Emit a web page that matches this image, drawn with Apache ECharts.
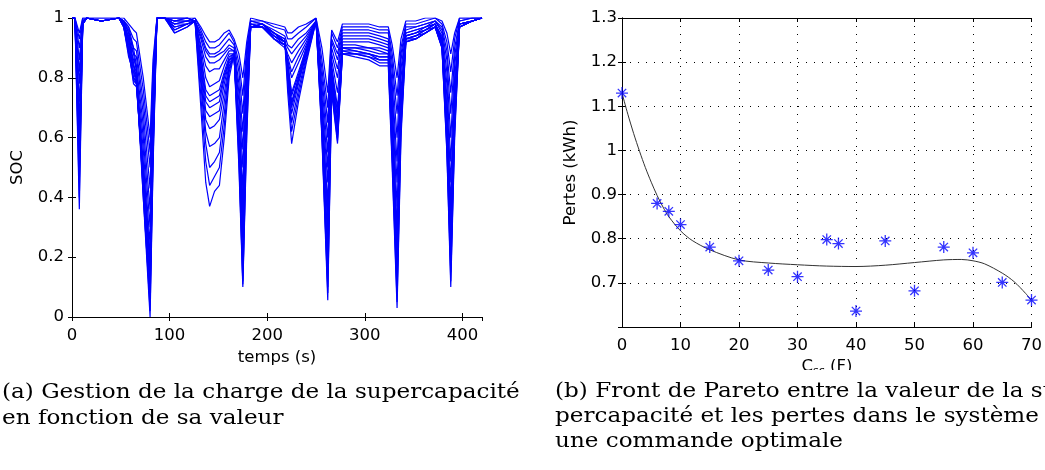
<!DOCTYPE html>
<html lang="fr">
<head>
<meta charset="UTF-8">
<title>SOC et front de Pareto</title>
<script src="https://cdn.jsdelivr.net/npm/echarts@6/dist/echarts.min.js"></script>
<style>
    body { margin: 0; background: #fff; }
    #root { width: 1045px; height: 470px; }
</style>
</head>
<body>
<div id="root"></div>
<script>
// (a) temps (s) commun a toutes les courbes de SOC
var temps = [0, 3, 7.5, 11, 15, 30, 48, 53, 58, 63, 66, 73, 80, 83, 87, 95, 105, 118, 126, 132,
    137, 141, 146, 151, 156, 161, 166, 171, 175, 179, 183, 195, 207, 218, 221, 225, 232, 240, 250, 256,
    262, 266, 272, 277, 290, 304, 315, 324, 328, 333, 337, 342, 352, 362, 372, 379, 384, 388, 392, 397,
    410, 420];

// une courbe par valeur de supercapacite (de la plus petite a la plus grande)
var soc1 = [1, 1, 0.36, 0.98, 1, 0.99, 1, 0.99, 0.97, 0.9, 0.84, 0.4, 0.0, 0.5, 1, 1, 1, 1, 0.99, 0.7,
    0.45, 0.37, 0.42, 0.44, 0.6, 0.8, 0.88, 0.5, 0.1, 0.6, 0.97, 0.98, 0.95, 0.92, 0.75, 0.58, 0.72, 0.85, 0.99, 0.6,
    0.056, 0.75, 0.58, 0.88, 0.87, 0.86, 0.84, 0.84, 0.5, 0.03, 0.6, 0.92, 0.93, 0.95, 0.97, 0.9, 0.55, 0.1, 0.6, 0.97,
    0.99, 1];
var soc2 = [1, 1, 0.4, 0.98, 1, 0.99, 1, 0.99, 0.96, 0.88, 0.82, 0.42, 0.02, 0.52, 1, 1, 1, 1, 0.99, 0.74,
    0.52, 0.44, 0.47, 0.5, 0.64, 0.82, 0.88, 0.52, 0.11, 0.62, 0.97, 0.98, 0.95, 0.93, 0.78, 0.62, 0.74, 0.86, 0.99, 0.61,
    0.08, 0.76, 0.59, 0.88, 0.88, 0.87, 0.85, 0.85, 0.52, 0.05, 0.62, 0.92, 0.93, 0.95, 0.97, 0.9, 0.56, 0.12, 0.62, 0.97,
    0.99, 1];
var soc3 = [1, 1, 0.45, 0.98, 1, 0.99, 1, 0.99, 0.95, 0.85, 0.8, 0.4, 0.05, 0.55, 1, 1, 1, 1, 0.99, 0.78,
    0.58, 0.5, 0.52, 0.55, 0.68, 0.83, 0.88, 0.55, 0.12, 0.65, 0.97, 0.98, 0.95, 0.93, 0.8, 0.65, 0.76, 0.87, 0.99, 0.62,
    0.1, 0.78, 0.6, 0.88, 0.88, 0.87, 0.86, 0.86, 0.55, 0.08, 0.64, 0.92, 0.93, 0.95, 0.97, 0.9, 0.58, 0.15, 0.63, 0.97,
    0.99, 1];
var soc4 = [1, 1, 0.48, 0.98, 1, 0.99, 1, 0.98, 0.94, 0.84, 0.79, 0.43, 0.08, 0.56, 1, 1, 0.99, 1, 0.99, 0.8,
    0.62, 0.57, 0.58, 0.6, 0.72, 0.84, 0.87, 0.58, 0.18, 0.68, 0.97, 0.97, 0.95, 0.92, 0.81, 0.68, 0.78, 0.88, 0.99, 0.64,
    0.15, 0.79, 0.61, 0.89, 0.88, 0.88, 0.86, 0.86, 0.58, 0.12, 0.66, 0.93, 0.93, 0.95, 0.97, 0.91, 0.6, 0.18, 0.65, 0.97,
    0.99, 1];
var soc5 = [1, 1, 0.52, 0.98, 1, 0.99, 1, 0.98, 0.93, 0.82, 0.78, 0.45, 0.1, 0.58, 1, 1, 0.99, 0.99, 0.99, 0.82,
    0.66, 0.63, 0.64, 0.66, 0.75, 0.85, 0.87, 0.6, 0.25, 0.7, 0.97, 0.97, 0.94, 0.92, 0.82, 0.7, 0.79, 0.88, 0.99, 0.65,
    0.2, 0.8, 0.62, 0.89, 0.89, 0.88, 0.87, 0.87, 0.6, 0.15, 0.68, 0.93, 0.94, 0.95, 0.97, 0.91, 0.62, 0.22, 0.67, 0.97,
    0.99, 1];
var soc6 = [1, 1, 0.56, 0.98, 1, 0.99, 1, 0.98, 0.92, 0.8, 0.78, 0.46, 0.13, 0.59, 1, 1, 0.99, 0.99, 0.99, 0.84,
    0.69, 0.67, 0.68, 0.69, 0.78, 0.86, 0.87, 0.61, 0.29, 0.71, 0.97, 0.97, 0.94, 0.92, 0.83, 0.71, 0.8, 0.89, 0.99, 0.66,
    0.25, 0.81, 0.64, 0.9, 0.89, 0.88, 0.87, 0.87, 0.62, 0.18, 0.69, 0.93, 0.94, 0.96, 0.97, 0.92, 0.64, 0.26, 0.68, 0.97,
    0.99, 1];
var soc7 = [1, 1, 0.6, 0.98, 1, 0.99, 1, 0.98, 0.9, 0.78, 0.77, 0.48, 0.16, 0.6, 1, 1, 0.98, 0.99, 0.99, 0.85,
    0.72, 0.7, 0.71, 0.72, 0.8, 0.86, 0.87, 0.62, 0.33, 0.72, 0.97, 0.97, 0.94, 0.92, 0.84, 0.72, 0.8, 0.89, 0.99, 0.68,
    0.3, 0.82, 0.66, 0.9, 0.9, 0.89, 0.88, 0.88, 0.64, 0.22, 0.7, 0.93, 0.94, 0.96, 0.98, 0.92, 0.66, 0.3, 0.7, 0.98,
    0.99, 1];
var soc8 = [1, 1, 0.63, 0.98, 1, 0.99, 1, 0.97, 0.89, 0.79, 0.78, 0.5, 0.18, 0.62, 1, 1, 0.98, 0.98, 0.99, 0.87,
    0.74, 0.72, 0.73, 0.74, 0.81, 0.86, 0.88, 0.64, 0.36, 0.74, 0.97, 0.97, 0.93, 0.91, 0.85, 0.74, 0.81, 0.9, 0.99, 0.69,
    0.34, 0.83, 0.68, 0.9, 0.9, 0.9, 0.89, 0.88, 0.66, 0.26, 0.72, 0.94, 0.95, 0.96, 0.98, 0.93, 0.68, 0.34, 0.72, 0.98,
    0.99, 1];
var soc9 = [1, 1, 0.66, 0.98, 1, 0.99, 1, 0.97, 0.88, 0.8, 0.79, 0.52, 0.2, 0.63, 1, 1, 0.97, 0.98, 0.99, 0.88,
    0.76, 0.74, 0.75, 0.76, 0.82, 0.87, 0.88, 0.65, 0.38, 0.75, 0.98, 0.97, 0.93, 0.91, 0.85, 0.75, 0.82, 0.9, 0.99, 0.7,
    0.38, 0.84, 0.7, 0.91, 0.91, 0.9, 0.9, 0.89, 0.68, 0.3, 0.73, 0.94, 0.95, 0.96, 0.98, 0.93, 0.7, 0.38, 0.74, 0.98,
    0.99, 1];
var soc10 = [1, 1, 0.72, 0.98, 1, 0.99, 1, 0.97, 0.87, 0.82, 0.8, 0.56, 0.24, 0.66, 1, 1, 0.96, 0.98, 0.99, 0.9,
    0.8, 0.77, 0.78, 0.79, 0.84, 0.88, 0.88, 0.68, 0.43, 0.78, 0.98, 0.97, 0.93, 0.91, 0.86, 0.8, 0.85, 0.91, 0.99, 0.72,
    0.45, 0.86, 0.75, 0.92, 0.92, 0.92, 0.91, 0.9, 0.72, 0.37, 0.76, 0.94, 0.95, 0.97, 0.98, 0.93, 0.74, 0.45, 0.77, 0.98,
    0.99, 1];
var soc11 = [1, 1, 0.78, 0.99, 1, 0.99, 1, 0.97, 0.89, 0.84, 0.82, 0.6, 0.3, 0.7, 1, 1, 0.95, 0.97, 0.99, 0.91,
    0.84, 0.82, 0.83, 0.83, 0.86, 0.89, 0.89, 0.72, 0.5, 0.8, 0.98, 0.97, 0.93, 0.9, 0.87, 0.82, 0.87, 0.92, 0.99, 0.74,
    0.5, 0.88, 0.8, 0.93, 0.93, 0.93, 0.92, 0.91, 0.75, 0.45, 0.8, 0.95, 0.96, 0.97, 0.98, 0.94, 0.78, 0.52, 0.8, 0.98,
    0.99, 1];
var soc12 = [1, 1, 0.82, 0.99, 1, 0.99, 1, 0.98, 0.91, 0.86, 0.84, 0.64, 0.36, 0.73, 1, 1, 0.95, 0.97, 0.99, 0.93,
    0.87, 0.85, 0.85, 0.86, 0.88, 0.9, 0.89, 0.75, 0.56, 0.83, 0.98, 0.98, 0.94, 0.91, 0.88, 0.85, 0.89, 0.93, 0.99, 0.77,
    0.55, 0.9, 0.83, 0.94, 0.94, 0.94, 0.93, 0.92, 0.78, 0.52, 0.83, 0.95, 0.96, 0.97, 0.99, 0.95, 0.82, 0.6, 0.84, 0.98,
    0.99, 1];
var soc13 = [1, 1, 0.86, 0.99, 1, 0.99, 1, 0.98, 0.93, 0.88, 0.87, 0.68, 0.43, 0.77, 1, 1, 0.96, 0.98, 0.99, 0.94,
    0.89, 0.87, 0.87, 0.88, 0.89, 0.91, 0.9, 0.78, 0.62, 0.86, 0.99, 0.98, 0.95, 0.92, 0.9, 0.88, 0.91, 0.94, 0.99, 0.8,
    0.6, 0.92, 0.86, 0.95, 0.95, 0.95, 0.94, 0.93, 0.82, 0.6, 0.86, 0.96, 0.97, 0.98, 0.99, 0.96, 0.86, 0.68, 0.87, 0.99,
    1, 1];
var soc14 = [1, 1, 0.9, 0.99, 1, 0.99, 1, 0.99, 0.95, 0.9, 0.89, 0.72, 0.5, 0.8, 1, 1, 0.97, 0.98, 0.99, 0.95,
    0.9, 0.88, 0.88, 0.89, 0.91, 0.93, 0.91, 0.82, 0.68, 0.88, 0.99, 0.98, 0.96, 0.94, 0.91, 0.9, 0.93, 0.95, 0.99, 0.83,
    0.65, 0.93, 0.88, 0.96, 0.96, 0.96, 0.95, 0.95, 0.85, 0.68, 0.88, 0.97, 0.97, 0.98, 0.99, 0.97, 0.89, 0.75, 0.9, 0.99,
    1, 1];
var soc15 = [1, 1, 0.93, 1, 1, 1, 1, 0.99, 0.97, 0.93, 0.92, 0.76, 0.55, 0.83, 1, 1, 0.98, 0.99, 1, 0.96,
    0.92, 0.9, 0.9, 0.91, 0.93, 0.95, 0.92, 0.85, 0.74, 0.9, 0.99, 0.99, 0.97, 0.96, 0.93, 0.93, 0.95, 0.97, 1, 0.86,
    0.7, 0.95, 0.9, 0.97, 0.97, 0.97, 0.96, 0.96, 0.88, 0.74, 0.9, 0.98, 0.98, 0.99, 1, 0.98, 0.92, 0.82, 0.93, 1,
    1, 1];
var soc16 = [1, 1, 0.95, 1, 1, 1, 1, 1, 0.98, 0.96, 0.95, 0.8, 0.6, 0.86, 1, 1, 0.99, 1, 1, 0.97,
    0.94, 0.92, 0.92, 0.93, 0.95, 0.96, 0.93, 0.88, 0.8, 0.92, 1, 0.99, 0.98, 0.97, 0.95, 0.95, 0.97, 0.98, 1, 0.9,
    0.75, 0.96, 0.92, 0.98, 0.98, 0.98, 0.97, 0.97, 0.91, 0.8, 0.93, 0.99, 0.99, 1, 1, 0.99, 0.95, 0.88, 0.95, 1,
    1, 1];
var socCourbes = [soc1, soc2, soc3, soc4, soc5, soc6, soc7, soc8, soc9, soc10, soc11, soc12, soc13, soc14, soc15, soc16];

// (b) front de Pareto : valeur de la supercapacite (F) et pertes (kWh)
var capa = [0, 6, 8, 10, 15, 20, 25, 30, 35, 37, 40, 45, 50, 55, 60, 65, 70];
var pertes = [1.13, 0.88, 0.862, 0.832, 0.781, 0.75, 0.729, 0.714, 0.798, 0.789, 0.636, 0.795, 0.682, 0.781, 0.768, 0.701, 0.661];

// courbe d'ajustement
var capaFit = [0, 1, 2, 3, 4, 5, 6, 7, 8, 10, 12, 15, 20, 25, 30, 35, 40, 45, 50, 55, 58, 60, 62, 65, 67, 69, 70];
var pertesFit = [1.13, 1.082, 1.038, 0.998, 0.961, 0.928, 0.898, 0.872, 0.85, 0.818, 0.796, 0.775, 0.752, 0.745, 0.741, 0.738, 0.737, 0.74, 0.746, 0.752, 0.753, 0.75, 0.743, 0.722, 0.703, 0.676, 0.66];

var FONT = '"DejaVu Sans", sans-serif';
var TAILLE = 16.5;
var SERIF = '"DejaVu Serif", serif';

function axeCadre(grid, pos, min, max, interval) {
    // axe miroir (haut / droite) : juste le trait et les graduations
    return {
        type: 'value', gridIndex: grid, position: pos, min: min, max: max, interval: interval,
        axisLine: { show: true, lineStyle: { color: '#000', width: 1 } },
        axisTick: { show: true, inside: true, length: 4, lineStyle: { color: '#000' } },
        axisLabel: { show: false },
        splitLine: { show: false }
    };
}

var pointilles = { show: true, lineStyle: { color: '#000', type: [1, 7], width: 1 } };
var texteAxe = { color: '#000', fontFamily: FONT, fontSize: TAILLE };

var mychart = echarts.init(document.getElementById('root'));

var series = socCourbes.map(function (courbe) {
    return {
        type: 'line',
        xAxisIndex: 0,
        yAxisIndex: 0,
        symbol: 'none',
        lineStyle: { color: '#0000ff', width: 1.2 },
        data: temps.map(function (t, i) { return [t, courbe[i]]; })
    };
});

series.push({
    type: 'line',
    xAxisIndex: 2,
    yAxisIndex: 2,
    symbol: 'none',
    smooth: 0.3,
    lineStyle: { color: '#333', width: 1 },
    data: capaFit.map(function (c, i) { return [c, pertesFit[i]]; })
});

series.push({
    type: 'scatter',
    xAxisIndex: 2,
    yAxisIndex: 2,
    symbol: 'path://M5,0L5,10M0,5L10,5M1.5,1.5L8.5,8.5M1.5,8.5L8.5,1.5',
    symbolSize: 12,
    itemStyle: { color: 'transparent', borderColor: '#0000ff', borderWidth: 1.3 },
    data: capa.map(function (c, i) { return [c, pertes[i]]; }),
    z: 5
});

mychart.setOption({
    animation: false,
    backgroundColor: '#fff',
    grid: [
        { left: 72, top: 18, width: 410, height: 299 },
        { left: 622, top: 18, width: 410, height: 309 }
    ],
    xAxis: [{
        type: 'value', gridIndex: 0, position: 'bottom', min: 0, max: 420, interval: 100,
        name: 'temps (s)', nameLocation: 'middle', nameGap: 30,
        nameTextStyle: texteAxe,
        axisLine: { show: true, lineStyle: { color: '#000', width: 1 } },
        axisTick: { show: true, inside: true, length: 4, lineStyle: { color: '#000' } },
        axisLabel: Object.assign({ margin: 10, showMaxLabel: false }, texteAxe),
        splitLine: { show: false }
    },
    axeCadre(0, 'top', 0, 420, 100),
    {
        type: 'value', gridIndex: 1, position: 'bottom', min: 0, max: 70, interval: 10,
        axisLine: { show: true, lineStyle: { color: '#000', width: 1 } },
        axisTick: { show: true, inside: true, length: 4, lineStyle: { color: '#000' } },
        axisLabel: Object.assign({ margin: 10 }, texteAxe),
        splitLine: pointilles
    },
    axeCadre(1, 'top', 0, 70, 10)],
    yAxis: [{
        type: 'value', gridIndex: 0, position: 'left', min: 0, max: 1, interval: 0.2,
        name: 'SOC', nameLocation: 'middle', nameGap: 46,
        nameTextStyle: texteAxe,
        axisLine: { show: true, lineStyle: { color: '#000', width: 1 } },
        axisTick: { show: true, inside: true, length: 4, lineStyle: { color: '#000' } },
        axisLabel: Object.assign({ margin: 8 }, texteAxe),
        splitLine: { show: false }
    },
    axeCadre(0, 'right', 0, 1, 0.2),
    {
        type: 'value', gridIndex: 1, position: 'left', min: 0.6, max: 1.3, interval: 0.1,
        name: 'Pertes (kWh)', nameLocation: 'middle', nameGap: 43,
        nameTextStyle: texteAxe,
        axisLine: { show: true, lineStyle: { color: '#000', width: 1 } },
        axisTick: { show: true, inside: true, length: 4, lineStyle: { color: '#000' } },
        axisLabel: Object.assign({ margin: 5, showMinLabel: false }, texteAxe),
        splitLine: pointilles
    },
    axeCadre(1, 'right', 0.6, 1.3, 0.1)],
    graphic: [
        {
            type: 'text', x: 827, y: 357, z: 10,
            style: {
                text: '{c|C}{s|sc}{c| (F)}',
                align: 'center', verticalAlign: 'top',
                rich: {
                    c: { fontFamily: FONT, fontSize: TAILLE, fill: '#000' },
                    s: { fontFamily: FONT, fontSize: 11, fill: '#000', padding: [9, 0, 0, 0] }
                }
            }
        },
        { type: 'rect', z: 20, shape: { x: 760, y: 370, width: 140, height: 10 }, style: { fill: '#fff' } },
        {
            type: 'text', x: 2, y: 380, z: 10, scaleX: 1.1,
            style: {
                text: '(a) Gestion de la charge de la supercapacité\nen fonction de sa valeur',
                font: '21px ' + SERIF, lineHeight: 26, fill: '#000'
            }
        },
        {
            type: 'text', x: 555, y: 379, z: 10, scaleX: 1.1,
            style: {
                text: '(b) Front de Pareto entre la valeur de la su-\npercapacité et les pertes dans le système pour\nune commande optimale',
                font: '21px ' + SERIF, lineHeight: 25, fill: '#000'
            }
        }
    ],
    series: series
});
</script>
</body>
</html>
